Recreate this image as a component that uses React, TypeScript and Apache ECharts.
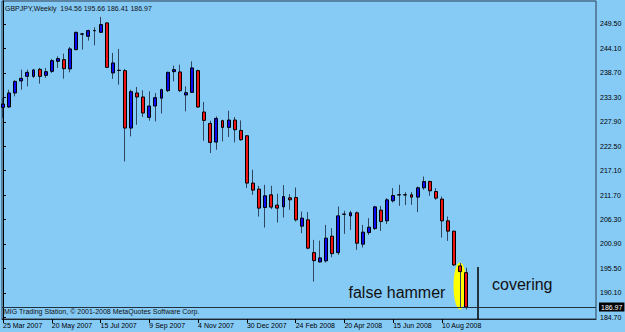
import React, { useEffect, useRef } from 'react';
import * as echarts from 'echarts';

// Weekly GBPJPY candles, 25 Mar 2007 .. 7 Sep 2008 (index 0..76)
const opens = [
  231.07, 231.16, 234.26, 236.91, 237.93, 237.93, 239.48, 238.15, 239.04, 241.25,
  241.62, 239.57, 243.84, 247.25, 246.78, 248.0, 247.66, 249.74, 238.68, 239.22,
  239.19, 226.51, 234.26, 233.37, 228.86, 231.38, 233.11, 234.77, 238.97, 238.9,
  233.82, 234.39, 239.19, 230.05, 227.53, 223.42, 228.13, 226.65, 228.28, 225.98,
  224.81, 214.35, 213.02, 208.95, 211.76, 209.48, 209.1, 211.09, 211.16, 204.83,
  206.23, 198.99, 196.93, 197.16, 202.62, 198.99, 207.45, 207.11, 207.78, 200.85,
  203.42, 204.3, 208.37, 206.01, 210.43, 211.72, 211.78, 211.76, 211.25, 213.31,
  214.7, 212.49, 210.81, 206.01, 203.73, 196.05, 194.56,
];
const highs = [
  233.22, 234.99, 237.05, 239.41, 239.41, 239.57, 239.79, 239.79, 241.78, 242.36,
  242.95, 244.43, 247.8, 247.53, 248.26, 248.77, 251.07, 249.8, 243.11, 243.99,
  239.57, 234.99, 235.59, 234.83, 234.61, 234.26, 235.21, 238.97, 240.3, 240.52,
  235.72, 241.25, 239.41, 232.27, 228.13, 229.08, 228.35, 230.34, 228.95, 228.2,
  224.9, 217.29, 213.75, 213.97, 213.75, 211.98, 213.9, 211.91, 213.37, 208.06,
  207.93, 201.8, 201.65, 205.12, 204.39, 209.17, 208.22, 208.22, 208.06, 205.12,
  206.6, 209.32, 209.32, 211.03, 213.24, 213.97, 212.35, 212.35, 213.59, 215.81,
  214.92, 213.24, 211.38, 206.96, 203.8, 196.71, 195.66,
];
const lows = [
  228.79, 230.94, 233.51, 234.99, 235.72, 237.58, 236.32, 237.58, 238.68, 239.79,
  237.42, 238.82, 243.68, 243.84, 245.83, 244.79, 247.53, 239.79, 237.36, 236.09,
  219.12, 224.66, 227.24, 228.95, 228.13, 227.97, 229.74, 234.48, 236.82, 234.48,
  230.19, 234.26, 230.94, 223.7, 220.98, 221.71, 223.55, 224.52, 223.33, 223.7,
  213.24, 211.76, 206.96, 204.52, 208.59, 205.63, 206.74, 208.44, 205.85, 203.28,
  199.74, 192.58, 196.78, 196.78, 197.97, 198.48, 203.13, 204.01, 199.59, 200.1,
  202.91, 204.01, 203.79, 205.28, 210.05, 209.32, 209.48, 209.55, 207.93, 212.86,
  211.54, 210.65, 202.31, 201.58, 196.05, 186.76, 186.41,
];
const closes = [
  231.82, 234.26, 236.82, 237.49, 238.82, 239.35, 237.93, 238.97, 241.4, 241.85,
  239.63, 243.99, 247.66, 247.31, 248.04, 248.06, 249.37, 239.92, 240.89, 239.28,
  226.51, 234.55, 233.37, 229.83, 231.38, 233.22, 234.99, 238.82, 239.41, 234.77,
  234.32, 239.79, 231.16, 228.2, 223.33, 228.64, 226.65, 228.28, 226.14, 223.93,
  214.35, 212.8, 208.82, 211.54, 209.04, 208.82, 211.38, 210.65, 206.23, 206.6,
  199.97, 197.22, 197.82, 202.18, 198.77, 207.11, 207.5, 207.78, 201.07, 203.51,
  204.61, 209.1, 205.85, 210.65, 211.6, 211.78, 211.72, 211.25, 213.31, 214.7,
  212.64, 211.03, 206.01, 203.73, 196.27, 194.79, 186.97,
];

const xTickIndex = [0, 8, 16, 24, 32, 40, 48, 56, 64, 72];
const xTickLabels = [
  '25 Mar 2007', '20 May 2007', '15 Jul 2007', '9 Sep 2007', '4 Nov 2007',
  '30 Dec 2007', '24 Feb 2008', '20 Apr 2008', '15 Jun 2008', '10 Aug 2008',
];
const yTickValues = [
  184.7, 190.1, 195.5, 200.9, 206.3, 211.7, 217.1, 222.5, 227.9, 233.3, 238.7, 244.1, 249.5,
];
const bidPrice = 186.97;
const coveringLineIndex = 77.9;
const coveringLineTop = 195.8;
const titleText = 'GBPJPY,Weekly  194.56 195.66 186.41 186.97';
const copyrightText = 'MIG Trading Station, \u00A9 2001-2008 MetaQuotes Software Corp.';
const hammerNote = 'false hammer';
const coveringNote = 'covering';

const FONT = '"Liberation Sans", Arial, sans-serif';
const BG = '#86CAF6';
const WICK = '#2e4660';

export default function App() {
  const ref = useRef<HTMLDivElement>(null);

  useEffect(() => {
    if (!ref.current) return;
    const chart = echarts.init(ref.current, null, { renderer: 'svg' });

    const wickData = opens.map((o, i) => [i, o, closes[i], lows[i], highs[i]]);
    const bodyData = opens.map((o, i) => [
      i, o, closes[i], Math.min(o, closes[i]), Math.max(o, closes[i]),
    ]);

    const option: any = {
      animation: false,
      backgroundColor: BG,
      grid: {
        left: 2, right: 29, top: 1, bottom: 13,
        show: true, backgroundColor: 'transparent',
        borderColor: '#2c3e52', borderWidth: 1,
      },
      xAxis: {
        type: 'value',
        min: -0.164,
        max: 97.26,
        splitLine: { show: false },
        axisLine: { show: true, lineStyle: { color: '#1a2530', width: 1 } },
        axisTick: { show: true, length: 4, customValues: xTickIndex, lineStyle: { color: '#000' } },
        axisLabel: {
          show: true,
          customValues: xTickIndex,
          formatter: (v: number) => {
            const k = xTickIndex.indexOf(Math.round(v));
            return k >= 0 ? xTickLabels[k] : '';
          },
          align: 'left',
          margin: 3,
          fontSize: 7,
          fontFamily: FONT,
          color: '#000',
        },
      },
      yAxis: {
        type: 'value',
        position: 'right',
        min: 184.32,
        max: 254.58,
        splitLine: { show: false },
        axisLine: { show: true, lineStyle: { color: '#000', width: 1 } },
        axisTick: { show: true, length: 3, customValues: yTickValues, lineStyle: { color: '#000' } },
        axisLabel: {
          show: true,
          customValues: yTickValues,
          formatter: (v: number) => v.toFixed(2),
          margin: 4,
          fontSize: 7,
          fontFamily: FONT,
          color: '#000',
        },
      },
      series: [
        {
          type: 'candlestick',
          data: wickData,
          barWidth: 1,
          silent: true,
          z: 2,
          itemStyle: {
            color: WICK, color0: WICK, borderColor: WICK, borderColor0: WICK,
            borderColorDoji: WICK, borderWidth: 1,
          },
          markLine: {
            silent: true,
            symbol: 'none',
            label: { show: false },
            lineStyle: { color: '#000', width: 1.5, type: 'solid' },
            data: [[
              { coord: [coveringLineIndex, coveringLineTop] },
              { coord: [coveringLineIndex, 184.32] },
            ]],
          },
        },
        {
          type: 'candlestick',
          data: bodyData,
          barWidth: 3.4,
          silent: true,
          z: 3,
          itemStyle: {
            color: '#0c0cee', color0: '#ee1212',
            borderColor: '#000', borderColor0: '#000', borderColorDoji: '#000',
            borderWidth: 1,
          },
          markLine: {
            silent: true,
            symbol: 'none',
            lineStyle: { color: '#22313f', width: 1, type: 'solid' },
            label: {
              show: true,
              position: 'end',
              formatter: bidPrice.toFixed(2),
              color: '#fff',
              backgroundColor: '#000',
              fontSize: 7,
              fontFamily: FONT,
              padding: [1, 2, 1, 2],
              distance: 3,
            },
            data: [{ yAxis: bidPrice }],
          },
        },
      ],
      graphic: [
        {
          type: 'ellipse',
          z: 1,
          silent: true,
          shape: { cx: 460, cy: 286, rx: 6.5, ry: 23.5 },
          style: { fill: '#ffff00' },
        },
        {
          type: 'text', z: 10, silent: true, x: 5, y: 8,
          style: { text: titleText, fill: '#111', font: `7px ${FONT}`, verticalAlign: 'middle', textVerticalAlign: 'middle' },
        },
        {
          type: 'text', z: 10, silent: true, x: 4, y: 311.5,
          style: { text: copyrightText, fill: '#111', font: `7px ${FONT}`, verticalAlign: 'middle', textVerticalAlign: 'middle' },
        },
        {
          type: 'text', z: 10, silent: true, x: 348.5, y: 292.5,
          style: { text: hammerNote, fill: '#111', font: `16px ${FONT}`, verticalAlign: 'middle', textVerticalAlign: 'middle' },
        },
        {
          type: 'text', z: 10, silent: true, x: 492, y: 284.5,
          style: { text: coveringNote, fill: '#111', font: `16px ${FONT}`, verticalAlign: 'middle', textVerticalAlign: 'middle' },
        },
      ],
    };

    chart.setOption(option);
    return () => chart.dispose();
  }, []);

  return (
    <div
      ref={ref}
      style={{ position: 'fixed', left: 0, top: 0, width: 625, height: 332, background: BG }}
    />
  );
}
